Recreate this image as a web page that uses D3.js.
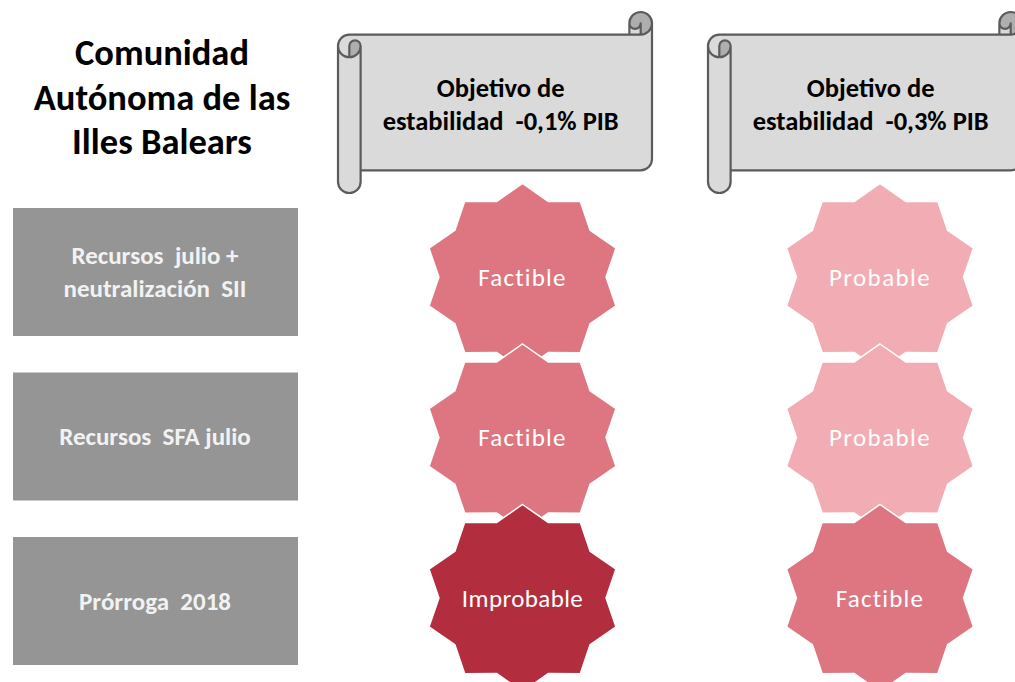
<!DOCTYPE html>
<html>
<head>
    <meta charset="utf-8">
    <title>Illes Balears</title>
    <script src="https://cdnjs.cloudflare.com/ajax/libs/d3/7.8.5/d3.min.js"></script>
    <style>
        body {
            margin: 0;
            background: white;
            font-family: Carlito, Calibri, Lato, sans-serif;
        }

        text {
            white-space: pre;
        }
    </style>
</head>

<body>
    <svg id="chart" width="1015" height="682"></svg>

    <script>
        // data
        const titleLines = ["Comunidad", "Autónoma de las", "Illes Balears"];
        const scenarios = [
            ["Recursos  julio +", "neutralización  SII"],
            ["Recursos  SFA julio"],
            ["Prórroga  2018"]
        ];
        const targets = [
            ["Objetivo de", "estabilidad  -0,1% PIB"],
            ["Objetivo de", "estabilidad  -0,3% PIB"]
        ];
        const col1Rating = ["Factible", "Factible", "Improbable"];
        const col2Rating = ["Probable", "Probable", "Factible"];

        const ratingColor = {
            "Factible": "#dd7681",
            "Probable": "#f2adb4",
            "Improbable": "#b22e3e"
        };
        const ratingSpacing = { "Factible": 1.2, "Probable": 1.4, "Improbable": 0.4 };

        const svg = d3.select("#chart");

        // scales
        const rowIdx = d3.range(scenarios.length);
        const colIdx = d3.range(targets.length);
        const yStar = d3.scalePoint().domain(rowIdx).range([277, 598]);
        const yBox = d3.scalePoint().domain(rowIdx).range([272, 601]);
        const xStar = d3.scalePoint().domain(colIdx).range([522.5, 880]);
        const xScroll = d3.scalePoint().domain(colIdx).range([338, 708]);

        // title
        svg.append("g").selectAll("text")
            .data(titleLines)
            .join("text")
            .attr("x", 162)
            .attr("y", (d, i) => 65 + i * 44.5)
            .attr("text-anchor", "middle")
            .attr("font-size", 36.5)
            .attr("font-weight", "bold")
            .attr("fill", "#000")
            .text(d => d);

        // row label boxes
        const boxH = 128;
        const box = svg.append("g").selectAll("g")
            .data(scenarios)
            .join("g")
            .attr("transform", (d, i) => `translate(0,${yBox(i)})`);
        box.append("rect")
            .attr("x", 13)
            .attr("y", -boxH / 2)
            .attr("width", 285)
            .attr("height", boxH)
            .attr("fill", "#959595");
        box.each(function (lines) {
            d3.select(this).selectAll("text")
                .data(lines)
                .join("text")
                .attr("x", 155)
                .attr("y", (d, i) => (i - (lines.length - 1) / 2) * 33)
                .attr("dy", "0.35em")
                .attr("text-anchor", "middle")
                .attr("font-size", 25)
                .attr("font-weight", "bold")
                .attr("fill", "#f2f2f2")
                .text(d => d);
        });

        // path builder using drawingML style arcTo
        function pathBuilder() {
            let d = "", cx = 0, cy = 0;
            const rad = a => a * Math.PI / 180;
            const p = {
                M(x, y) { d += `M${x},${y}`; cx = x; cy = y; return p; },
                L(x, y) { d += `L${x},${y}`; cx = x; cy = y; return p; },
                A(r, st, sw) {
                    const ox = cx - r * Math.cos(rad(st)), oy = cy - r * Math.sin(rad(st));
                    const ex = ox + r * Math.cos(rad(st + sw)), ey = oy + r * Math.sin(rad(st + sw));
                    d += `A${r},${r} 0 ${Math.abs(sw) > 180 ? 1 : 0} ${sw > 0 ? 1 : 0} ${ex},${ey}`;
                    cx = ex; cy = ey; return p;
                },
                Z() { d += "Z"; return p; },
                d: () => d
            };
            return p;
        }

        function scroll(g, l, t, w, h) {
            const r = l + w, b = t + h, ch = Math.min(w, h) * 0.125, ch2 = ch / 2, ch4 = ch / 4;
            const y3 = t + ch + ch2, y4 = t + 2 * ch, y6 = b - ch, y7 = b - ch2, y5 = y6 - ch2;
            const x3 = r - ch, x4 = r - ch2;

            const body = pathBuilder()
                .M(r, t + ch2).A(ch2, 0, 90).L(x4, t + ch2).A(ch4, 0, 180).L(x3, t + ch)
                .L(l + ch2, t + ch).A(ch2, 270, -90).L(l, y7).A(ch2, 180, -180)
                .L(l + ch, y6).L(x4, y6).A(ch2, 90, -90).Z();
            g.append("path").attr("d", body.d()).attr("fill", "#dadada");

            const curls = pathBuilder()
                .M(l + ch2, y4).A(ch2, 90, -90).A(ch4, 0, -180).Z()
                .M(x4, t + ch).A(ch2, 90, -270).A(ch4, 180, -180).Z();
            g.append("path").attr("d", curls.d()).attr("fill", "#aeaeae");

            const outline = pathBuilder()
                .M(l, y3).A(ch2, 180, 90).L(x3, t + ch).L(x3, t + ch2).A(ch2, 180, 180)
                .L(r, y5).A(ch2, 0, 90).L(l + ch, y6).L(l + ch, y7).A(ch2, 0, 180).Z()
                .M(x3, t + ch).L(x4, t + ch).A(ch2, 90, -90)
                .M(x4, t + ch).L(x4, t + ch2).A(ch4, 0, 180)
                .M(l + ch2, y4).L(l + ch2, y3).A(ch4, 180, 180).A(ch2, 0, 180)
                .M(l + ch, y3).L(l + ch, y6);
            g.append("path").attr("d", outline.d())
                .attr("fill", "none")
                .attr("stroke", "#5b5b5b")
                .attr("stroke-width", 2.2)
                .attr("stroke-linejoin", "round");
            return { cx: (l + ch + x4) / 2 };
        }

        // column header scrolls
        targets.forEach((lines, i) => {
            const g = svg.append("g");
            const s = scroll(g, xScroll(i), 12, 314, 181);
            g.selectAll("text")
                .data(lines)
                .join("text")
                .attr("x", s.cx)
                .attr("y", (d, j) => 97 + j * 32.5)
                .attr("text-anchor", "middle")
                .attr("font-size", 26.5)
                .attr("font-weight", "bold")
                .attr("fill", "#000")
                .text(d => d);
        });

        // 10-point stars
        const ry = 93.5, rx = ry * 1.05146, inner = 0.85;
        const starPts = d3.range(20).map(k => {
            const a = (-90 + k * 18) * Math.PI / 180;
            const f = k % 2 === 0 ? 1 : inner;
            return [rx * f * Math.cos(a), ry * f * Math.sin(a)];
        });
        const starPath = d3.line()(starPts) + "Z";

        const cells = [];
        rowIdx.forEach(r => {
            cells.push({ row: r, col: 0, rating: col1Rating[r] });
            cells.push({ row: r, col: 1, rating: col2Rating[r] });
        });

        const star = svg.append("g").selectAll("g")
            .data(cells)
            .join("g")
            .attr("transform", d => `translate(${xStar(d.col)},${yStar(d.row)})`);
        star.append("path")
            .attr("d", starPath)
            .attr("fill", d => ratingColor[d.rating])
            .attr("stroke", "#fff")
            .attr("stroke-width", 1.5);
        star.append("text")
            .attr("text-anchor", "middle")
            .attr("dy", "0.35em")
            .attr("font-size", 25)
            .attr("letter-spacing", d => ratingSpacing[d.rating])
            .attr("fill", "#fff")
            .text(d => d.rating);
    </script>
</body>
</html>
